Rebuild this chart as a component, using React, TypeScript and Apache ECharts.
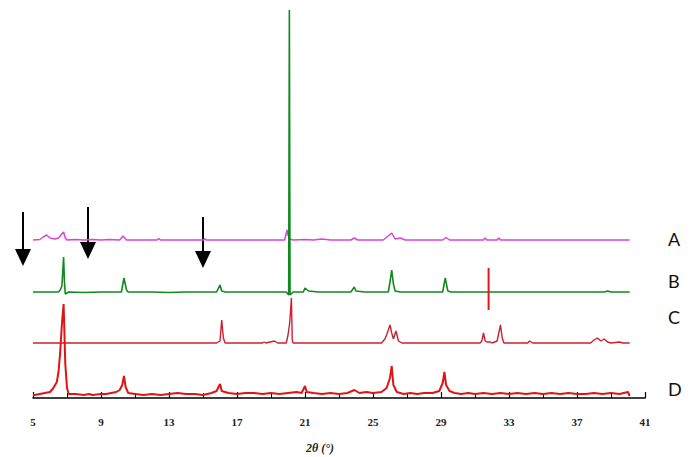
import React, { useEffect, useRef } from "react";
import * as echarts from "echarts";

// 2θ ticks
const X_TICKS = [5, 9, 13, 17, 21, 25, 29, 33, 37, 41];
const TRACE_LABELS = ["A", "B", "C", "D"];

// Intensities (relative to each trace's own baseline)
const A_DATA: number[][] = [
  [5.0, 0], [5.4, 0.5], [5.6, 3], [5.8, 5], [6.0, 2], [6.3, 1], [6.5, 2], [6.7, 6], [6.8, 8], [6.9, 2], [7.0, 0],
  [7.5, 0.5], [8.0, 0], [8.5, 0.5], [9.0, 0], [9.5, 0.5], [10.1, 0], [10.3, 4], [10.5, 0], [11.0, 0],
  [12.3, 0], [12.4, 1.5], [12.5, 0], [15.0, 0], [15.1, 1], [15.2, 0], [19.8, 0], [19.95, 10], [20.0, 5],
  [20.1, 1], [20.3, 0], [21.0, 0.5], [21.5, 0], [22.0, 1], [22.5, 0], [23.7, 0], [23.9, 2], [24.1, 0],
  [25.6, 0], [25.9, 4], [26.1, 7], [26.3, 1], [26.6, 2], [26.9, 0], [29.1, 0], [29.3, 2.5], [29.5, 0],
  [31.5, 0], [31.6, 2], [31.7, 0], [32.3, 0], [32.4, 2], [32.5, 0], [40.1, 0],
];

const B_DATA: number[][] = [
  [5.0, 0], [6.5, 0], [6.6, 2], [6.7, 6], [6.8, 35], [6.85, 10], [6.9, -2], [7.1, 0], [8, -0.5], [9, 0],
  [10.2, 0], [10.35, 14], [10.5, 2], [10.6, 0], [12, 0], [13, -0.5], [14, 0], [15.8, 0], [16.0, 7],
  [16.1, 1], [16.3, 0], [18, 0], [19.9, 0], [20.04, -3], [20.08, 282], [20.12, -3], [20.3, 0], [20.9, 0],
  [21.0, 4], [21.2, 1], [21.8, 0], [23.7, 0], [23.9, 5], [24.0, 1], [24.5, 0], [25.9, 0], [26.0, 10],
  [26.1, 22], [26.2, 8], [26.3, 1], [26.6, 0], [29.1, 0], [29.25, 14], [29.4, 1], [29.6, 0], [31.7, 0],
  [31.9, 0], [33, 0], [35, 0], [38.6, 0], [38.8, 1], [39, 0], [40.1, 0],
];

const C_DATA: number[][] = [
  [5.0, 0], [8, 0], [12, 0], [15.8, 0], [16.0, 2], [16.1, 23], [16.2, 5], [16.3, 0], [18.5, 0], [18.6, 1],
  [18.7, 0], [19.2, 2], [19.4, 0], [19.9, 0], [20.0, 8], [20.1, 20], [20.2, 45], [20.25, 3], [20.3, 0],
  [22, 0], [25.5, 0], [25.7, 4], [25.8, 8], [26.0, 18], [26.1, 10], [26.2, 4], [26.35, 12], [26.5, 2],
  [26.7, 0], [31.3, 0], [31.4, 2], [31.5, 10], [31.6, 2], [31.7, 1], [31.9, 1], [32.0, 0], [32.3, 2],
  [32.5, 18], [32.6, 5], [32.7, 0], [34.1, 0], [34.2, 2], [34.4, 0], [37.8, 0], [38.0, 3], [38.2, 5],
  [38.4, 2], [38.6, 4], [38.8, 1], [39.0, 0], [39.5, 1], [39.7, 0], [40.1, 0],
];

// stray red spike crossing trace B near 31.8° (relative to B's baseline)
const C_SPIKE: number[][] = [[31.8, -18], [31.8, 24]];

const D_DATA: number[][] = [
  [5.0, -1], [5.1, -1], [6.0, 2], [6.2, 6], [6.4, 12], [6.5, 22], [6.6, 42], [6.7, 70], [6.8, 90],
  [6.9, 30], [7.0, 6], [7.1, 0], [7.5, 0], [8, -1], [8.3, 0], [8.5, -1], [9, 0], [9.3, 0], [9.6, 1],
  [9.9, 2], [10.1, 4], [10.25, 9], [10.35, 18], [10.45, 7], [10.6, 1], [11, 0], [11.5, -1], [12, 0],
  [12.5, -1], [13, 0], [13.5, 1], [14, 0], [14.5, 0], [15, -1], [15.5, 1], [15.8, 3], [16.0, 10],
  [16.1, 3], [16.5, 1], [17, 0], [17.5, 1], [18, 1], [18.5, 0], [19, 1], [19.5, 0], [20, 1], [20.5, 2],
  [20.8, 1], [21.0, 8], [21.1, 2], [21.5, 1], [22, 0], [22.5, 1], [23, 0], [23.5, 1], [23.9, 4],
  [24.2, 1], [24.6, 2], [25, 1], [25.5, 2], [25.8, 6], [26.0, 16], [26.1, 28], [26.2, 9], [26.4, 2],
  [26.8, 0], [27.2, 1], [27.6, 0], [28, 1], [28.5, 1], [28.9, 3], [29.1, 11], [29.2, 22], [29.3, 9],
  [29.5, 3], [29.8, 1], [30.2, 0], [30.6, 1], [31, 0], [31.5, 1], [32, 0], [32.5, 1], [33, 0],
  [33.5, 1], [34, 0], [34.5, 1], [35, 0], [35.5, 1], [36, 0], [36.5, 1], [37, 0], [37.5, 0], [38, 1],
  [38.5, 0], [39, 1], [39.5, 0], [40.0, 2], [40.1, -2],
];

// vertical offsets of each trace (stacking)
const OFFSETS = { A: 158, B: 106, C: 55, D: 4 };

const shift = (arr: number[][], off: number) => arr.map(([x, y]) => [x, y + off]);

export default function App() {
  const ref = useRef<HTMLDivElement>(null);
  useEffect(() => {
    if (!ref.current) return;
    const chart = echarts.init(ref.current, null, { renderer: "svg" });
    const line = (name: string, data: number[][], color: string, width = 1.5) => ({
      name,
      type: "line",
      data,
      showSymbol: false,
      symbol: "none",
      lineStyle: { color, width },
      itemStyle: { color },
      z: 3,
    });
    const arrow = (x: number, y1: number, y2: number) => ({
      type: "group",
      children: [
        { type: "line", shape: { x1: x, y1, x2: x, y2: y2 - 14 }, style: { stroke: "#000", lineWidth: 2 } },
        {
          type: "polygon",
          shape: { points: [[x - 8, y2 - 17], [x + 8, y2 - 17], [x, y2]] },
          style: { fill: "#000" },
        },
      ],
    });
    const labelYs = [241, 283, 319, 391];
    chart.setOption({
      animation: false,
      backgroundColor: "#fff",
      grid: { left: 33, right: 47, top: 0, bottom: 59, containLabel: false },
      xAxis: {
        type: "value",
        min: 5,
        max: 41,
        interval: 4,
        axisLine: { lineStyle: { color: "#000", width: 1.5 }, onZero: false },
        axisTick: { inside: true, length: 6, lineStyle: { color: "#000", width: 1.2 } },
        minorTick: { show: true, splitNumber: 2, length: 5, lineStyle: { color: "#000", width: 1 } },
        splitLine: { show: false },
        axisLabel: {
          margin: 18,
          color: "#222",
          fontFamily: "Liberation Serif",
          fontSize: 11,
          fontWeight: "bold",
          customValues: X_TICKS,
        },
      },
      yAxis: { type: "value", min: 0, max: 398, show: false },
      series: [
        line("A", shift(A_DATA, OFFSETS.A), "#d844d8", 1.5),
        line("B", shift(B_DATA, OFFSETS.B), "#0e8a1e", 1.6),
        line("C", shift(C_DATA, OFFSETS.C), "#cc2030", 1.4),
        line("C spike", shift(C_SPIKE, OFFSETS.B), "#e01818", 2),
        line("D", shift(D_DATA, OFFSETS.D), "#e01414", 2),
      ],
      graphic: [
        ...TRACE_LABELS.map((t, i) => ({
          type: "text",
          left: 668,
          top: labelYs[i] - 11,
          style: { text: t, fill: "#111", font: "18px Lato" },
        })),
        {
          type: "text",
          left: 306,
          top: 442,
          style: { text: "2θ (°)", fill: "#222", font: "italic bold 12px 'Liberation Serif'" },
        },
        arrow(23, 212, 266),
        arrow(88, 207, 259),
        arrow(203, 217, 268),
      ],
    });
    return () => chart.dispose();
  }, []);
  return <div ref={ref} style={{ position: "absolute", left: 0, top: 0, width: 692, height: 457 }} />;
}
